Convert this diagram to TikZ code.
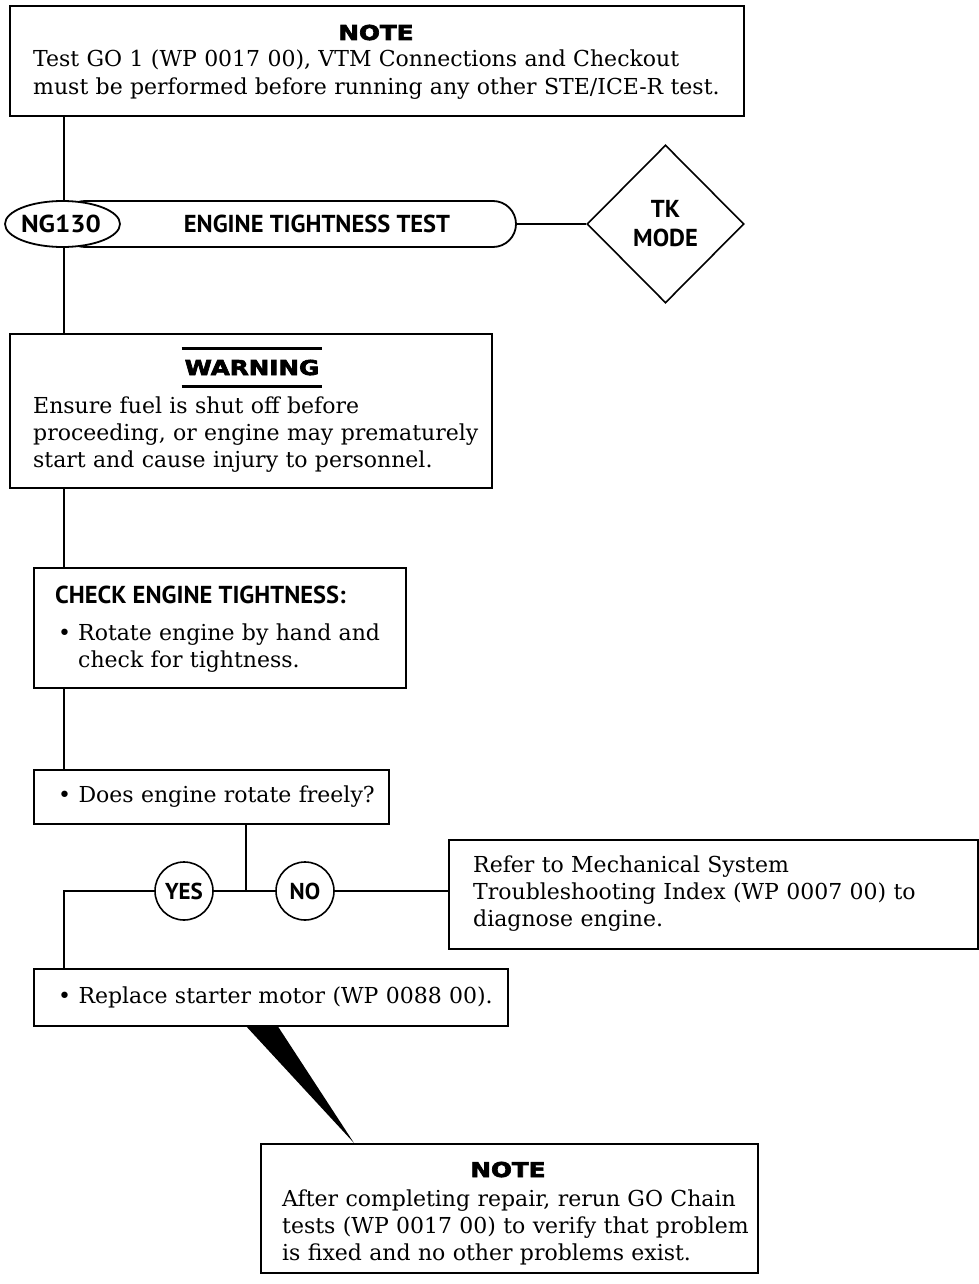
\documentclass[tikz,border=0pt]{standalone}
\usepackage{fontspec}
\usepackage{graphicx}
\setmainfont{DejaVu Serif}
\newfontfamily\labfont{PT Sans}
\newfontfamily\hdfont[BoldFeatures={FakeBold=3}]{DejaVu Sans}
\usetikzlibrary{shapes.geometric}
\pgfdeclarelayer{bg}
\pgfsetlayers{bg,main}
\tikzset{
  box/.style={draw, line width=2.2pt, inner sep=0pt, fill=white, anchor=north west},
  conn/.style={line width=1.6pt},
  body/.style={inner sep=0pt, anchor=base west, text width=#1, align=left,
    font=\fontsize{22}{27.3}\selectfont},
  head/.style={inner sep=0pt, anchor=base, font=\hdfont\bfseries\fontsize{20.5}{24}\selectfont},
  lab/.style={inner sep=0pt, font=\labfont\bfseries\fontsize{24.5}{29}\selectfont},
  yn/.style={draw, circle, line width=1.6pt, minimum size=58pt, inner sep=0pt, fill=white,
    font=\labfont\bfseries\fontsize{23}{26}\selectfont},
}
\newcommand{\wide}[1]{\scalebox{1.2}[1]{#1}}
\begin{document}
\begin{tikzpicture}[x=1pt,y=-1pt]
\useasboundingbox (0,0) rectangle (978,1284);
\coordinate (sp) at (64,0);
\coordinate (jn) at (246,891);

% top note
\node[box, minimum width=734pt, minimum height=110pt] (n1) at (9,5) {};
\node[head] (n1h) at (376,40) {\wide{NOTE}};
\node[body=720pt] (n1b) at (33,67) {Test GO 1 (WP 0017 00), VTM Connections and Checkout\\must be performed before running any other STE/ICE-R test.};

% test bar
\node[draw, line width=1.8pt, fill=white, rounded corners=23pt, minimum width=454pt, minimum height=46pt, inner sep=0pt] (bar) at (289,224) {};
\node[draw, ellipse, line width=1.8pt, fill=white, minimum width=115pt, minimum height=46pt, inner sep=0pt] (ng) at (62.5,224) {};
\node[lab, anchor=base] (ngt) at (61,232) {\scalebox{1.1}[1]{NG130}};
\node[lab, anchor=base] (bart) at (317,232) {ENGINE TIGHTNESS TEST};
\node[draw, diamond, line width=1.6pt, fill=white, minimum width=157pt, minimum height=158pt, inner sep=0pt, align=center, lab] (tk) at (665.5,224) {TK\\MODE};

% warning
\node[box, minimum width=482pt, minimum height=154pt] (warn) at (9,333) {};
\node[head, inner xsep=3pt, inner ysep=11pt] (wt) at (252,375) {\wide{WARNING}};
\draw[line width=2.2pt] (wt.north west) -- (wt.north east);
\draw[line width=2.2pt] (wt.south west) -- (wt.south east);
\node[body=460pt] (wb) at (33,413) {Ensure fuel is shut off before\\proceeding, or engine may prematurely\\start and cause injury to personnel.};

% check
\node[box, minimum width=372pt, minimum height=120pt] (chk) at (33,567) {};
\node[lab, anchor=base west] (chkh) at (55,603) {CHECK ENGINE TIGHTNESS:};
\node[body=20pt] (chkbul) at (58,640) {•};
\node[body=320pt] (chkb) at (78,640) {Rotate engine by hand and\\check for tightness.};

% question
\node[box, minimum width=355pt, minimum height=54pt] (q) at (33,769) {};
\node[body=330pt] (qt) at (58,802) {• Does engine rotate freely?};

% yes / no
\node[yn] (yes) at (184,891) {YES};
\node[yn] (no) at (305,891) {NO};

% refer
\node[box, minimum width=529pt, minimum height=109pt] (ref) at (448,839) {};
\node[body=490pt] (reft) at (473,872) {Refer to Mechanical System\\Troubleshooting Index (WP 0007 00) to\\diagnose engine.};

% replace
\node[box, minimum width=474pt, minimum height=57pt] (rep) at (33,968) {};
\node[body=460pt] (rept) at (58,1003) {• Replace starter motor (WP 0088 00).};

% bottom note
\node[box, minimum width=497pt, minimum height=129pt] (n2) at (260,1143) {};
\node[head] (n2h) at (508,1177) {\wide{NOTE}};
\node[body=470pt] (n2b) at (282,1206) {After completing repair, rerun GO Chain\\tests (WP 0017 00) to verify that problem\\is fixed and no other problems exist.};

% wedge
\coordinate (w1) at (245,1025);
\coordinate (w2) at (277,1025);
\coordinate (tip) at (354,1143);
\fill[black] (w1) -- (w2) -- (tip) -- cycle;

\begin{pgfonlayer}{bg}
\draw[conn] (n1.south -| sp) -- (warn.north -| sp);
\draw[conn] (bar.east) -- (tk.west);
\draw[conn] (warn.south -| sp) -- (chk.north -| sp);
\draw[conn] (chk.south -| sp) -- (q.north -| sp);
\draw[conn] (q.south -| jn) -- (jn);
\draw[conn] (yes.east) -- (no.west);
\draw[conn] (no.east) -- (ref.west |- no.east);
\draw[conn] (yes.west) -- (yes.west -| sp) -- (rep.north -| sp);
\end{pgfonlayer}
\end{tikzpicture}
\end{document}
